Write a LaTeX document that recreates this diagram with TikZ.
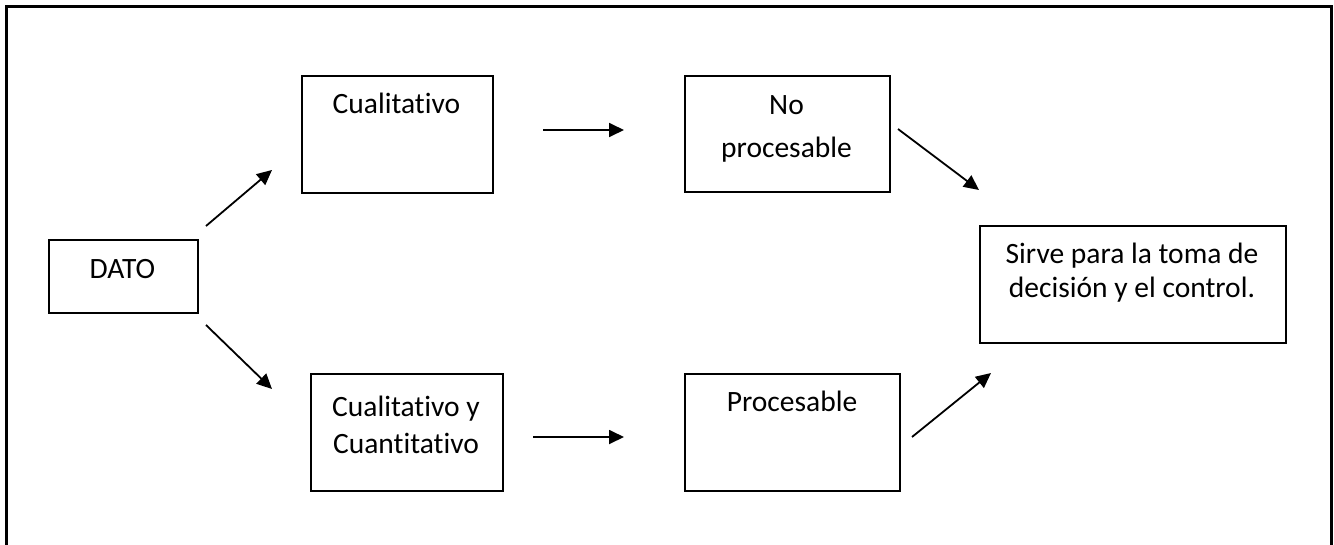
\documentclass[tikz,border=0pt]{standalone}
\usepackage{fontspec}
\setmainfont{Carlito}[Ligatures=NoCommon]
\usetikzlibrary{arrows.meta}
\begin{document}
\begin{tikzpicture}[x=1pt,y=-1pt,
  box/.style={draw,line width=1.8pt,rectangle,inner sep=0pt,anchor=north west},
  txt/.style={anchor=base,inner sep=0pt,font=\fontsize{29.5}{34}\selectfont},
  flow/.style={line width=1.8pt,-{Triangle[length=15pt,width=14pt]}}]
% page area
\clip (0,0) rectangle (1334,544);
\fill[white] (0,0) rectangle (1334,544);
% outer frame (open at the bottom edge of the page)
\draw[line width=3pt] (6,570) -- (6,6) -- (1331,6) -- (1331,570);

% boxes
\node[box,minimum width=149pt,minimum height=73pt]  (dato)  at (48,239)  {};
\node[box,minimum width=191pt,minimum height=117pt] (cual)  at (301,75)  {};
\node[box,minimum width=205pt,minimum height=116pt] (nopro) at (684,75)  {};
\node[box,minimum width=306pt,minimum height=117pt] (sirve) at (979,225) {};
\node[box,minimum width=192pt,minimum height=117pt] (cuan)  at (310,373) {};
\node[box,minimum width=215pt,minimum height=117pt] (pro)   at (684,373) {};

% texts
\node[txt] (tdato)   at (122.5,278) {DATO};
\node[txt] (tcual)   at (396.5,113) {Cualitativo};
\node[txt] (tno)     at (786.5,114) {No};
\node[txt] (tnop)    at (786.5,157.5) {procesable};
\node[txt] (tsirve1) at (1132,263) {Sirve para la toma de};
\node[txt] (tsirve2) at (1132,297) {decisión y el control.};
\node[txt] (tcuan1)  at (406,416) {Cualitativo y};
\node[txt] (tcuan2)  at (406,453) {Cuantitativo};
\node[txt] (tpro)    at (792,411.5) {Procesable};

% arrow end points
\coordinate (a1s) at (206,226); \coordinate (a1e) at (272,170);
\coordinate (a2s) at (206,325); \coordinate (a2e) at (272,389);
\coordinate (a3s) at (543,130); \coordinate (a3e) at (624,130);
\coordinate (a4s) at (533,437); \coordinate (a4e) at (624,437);
\coordinate (a5s) at (898,129); \coordinate (a5e) at (979,190);
\coordinate (a6s) at (912,437); \coordinate (a6e) at (991,373);

% arrows
\draw[flow] (a1s) -- (a1e);
\draw[flow] (a2s) -- (a2e);
\draw[flow] (a3s) -- (a3e);
\draw[flow] (a4s) -- (a4e);
\draw[flow] (a5s) -- (a5e);
\draw[flow] (a6s) -- (a6e);
\end{tikzpicture}
\end{document}
